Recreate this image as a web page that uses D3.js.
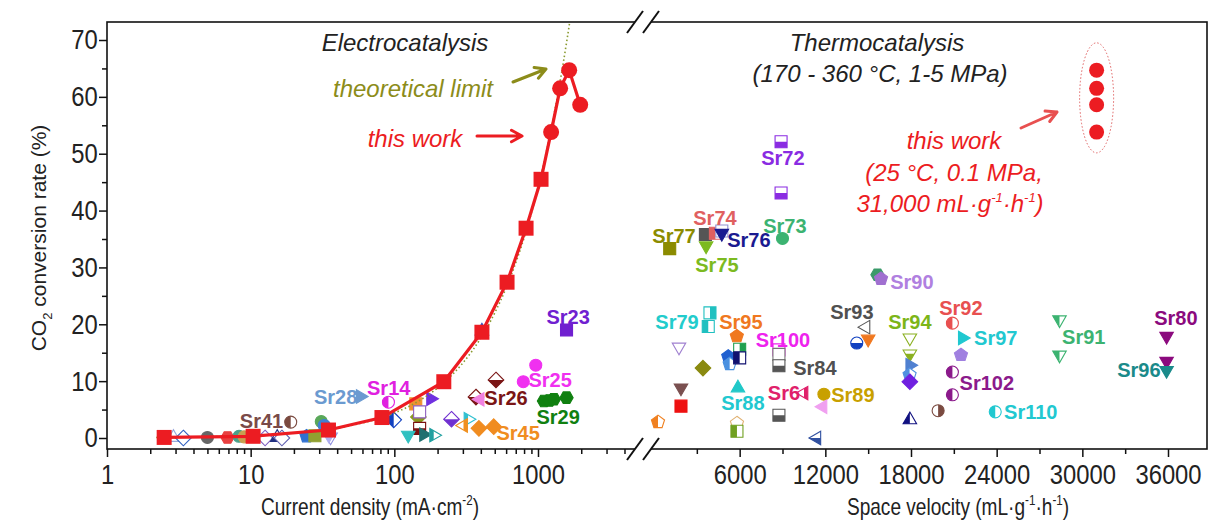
<!DOCTYPE html>
<html>
<head>
<meta charset="utf-8">
<script src="https://cdn.jsdelivr.net/npm/d3@7"></script>
<style>
  body { margin: 0; background: #fff; }
  svg { font-family: "Liberation Sans", Arial, sans-serif; }
</style>
</head>
<body>
<script>
// ---- data ----
// this work, electrocatalysis (current density mA/cm2, conversion %)
let workJ = [2.5, 10.4, 34.8, 82, 221, 407, 609, 826, 1050, 1234, 1426, 1648, 1967];
let workConv = [0.1, 0.3, 1.4, 3.6, 9.9, 18.6, 27.4, 36.9, 45.5, 53.8, 61.5, 64.7, 58.6];
let workShape = ['square', 'square', 'square', 'square', 'square', 'square', 'square', 'square', 'square',
    'circle', 'circle', 'circle', 'circle'];
// theoretical limit
let theoryJ = [2.2, 5, 10, 20, 50, 100, 150, 200, 250, 300, 400, 500, 600, 700, 800, 900, 1000,
    1100, 1200, 1300, 1400, 1500, 1600, 1700];
let theoryConv = [0.1, 0.22, 0.44, 0.88, 2.2, 4.4, 6.6, 8.8, 11.0, 13.2, 17.6, 22.0, 26.4, 30.8, 35.2, 39.6, 44.0,
    48.4, 52.8, 57.2, 61.6, 66.0, 70.4, 74.8];
// this work, thermocatalysis comparison (space velocity, conversion)
let workV = [31000, 31000, 31000, 31000];
let workVConv = [64.7, 61.5, 58.6, 53.8];

// literature, electrocatalysis
let elecJ = [2.9, 3.4, 5.0, 6.9, 8.3, 9.0, 12.6, 15.3, 16.5, 24.5, 28, 31, 32.5, 36, 35,
    19, 58, 91, 99, 141, 179, 147, 150, 150, 125, 160, 188, 250, 326, 303,
    388, 492, 510, 370, 395, 965, 790, 1100, 1200, 1290, 1580, 1580, 407];
let elecConv = [0.1, 0.0, 0.1, 0.1, 0.3, 0.2, 0.0, 0.1, 0.0, 0.3, 0.4, 2.9, 2.2, 0.2, 0.5,
    2.8, 7.3, 6.3, 3.2, 6.0, 6.9, 3.7, 4.6, 1.7, 0.5, 0.6, 0.5, 3.3, 3.3, 2.2,
    1.7, 2.0, 10.2, 7.2, 6.8, 12.8, 9.9, 6.5, 6.6, 6.8, 7.1, 19.0, 18.8];
let elecShape = ['triUp', 'diamond', 'circle', 'hexagon', 'circle', 'circle', 'diamond', 'triUp', 'diamond', 'pentagon',
    'square', 'circle', 'circle', 'triDown', 'triDown',
    'circle', 'triRight', 'circle', 'diamond', 'square', 'triRight', 'diamond', 'square', 'square', 'triDown',
    'triRight', 'triRight', 'diamond', 'triRight', 'triLeft',
    'diamond', 'diamond', 'diamond', 'diamond', 'triLeft', 'circle', 'circle', 'hexagon', 'hexagon', 'hexagon', 'hexagon',
    'square', 'triUp'];
let elecColor = ['#99aadd', '#3060c0', '#666666', '#e84040', '#4aa08a', '#c8a050', '#8060c0', '#203080', '#6060b0', '#3070d0',
    '#90a030', '#5aa85a', '#4080d0', '#9090e0', '#b0b0f0',
    '#7a4a40', '#6b9ad0', '#e020e0', '#1040c0', '#f09030', '#7030e0', '#8a9a20', '#9060c0', '#7a1010', '#30c0c0',
    '#207070', '#20a0a0', '#7030d0', '#30c0d0', '#f09020',
    '#f08c20', '#f08c20', '#7a1515', '#7a1515', '#f080e0', '#f030f0', '#f030f0', '#108010', '#108010', '#108010', '#108010',
    '#7020d0', '#3050c0'];
let elecFill = ['open', 'open', 'full', 'full', 'full', 'full', 'open', 'bottom', 'open', 'full',
    'full', 'full', 'full', 'open', 'full',
    'left', 'full', 'left', 'left', 'full', 'full', 'full', 'open', 'bottom', 'full',
    'full', 'left', 'bottom', 'left', 'right',
    'full', 'full', 'bottom', 'bottom', 'full', 'full', 'full', 'full', 'full', 'full', 'full',
    'full', 'full'];

// literature, thermocatalysis
let thermV = [8900, 8900, 3600, 4300, 4750, 4750, 9000, 1100, 3650, 15650, 15900, 3920, 3800, 5800,
    8750, 8750, 8750, 8750, 1750, 3430, 1890, 1890, 280, 5200, 5300, 6000, 6000, 5880,
    10500, 11900, 11830, 5810, 5810, 11400, 14840, 15000, 14200, 17920, 17920, 17920, 17900, 17920, 17920,
    20900, 21600, 21500, 20900, 20900, 19900, 23900, 28400, 28400, 35900, 35900, 35900];
let thermConv = [52.1, 43.1, 35.8, 36.0, 36.4, 36.0, 35.1, 33.3, 33.8, 28.7, 28.0, 22.0, 19.6, 17.9,
    15.5, 14.7, 12.7, 4.0, 16.0, 12.3, 8.8, 5.6, 2.8, 14.3, 13.0, 15.6, 14.1, 8.8,
    7.9, 7.7, 5.5, 2.6, 1.2, 0.0, 19.5, 17.4, 16.7, 17.6, 14.8, 12.8, 11.1, 9.9, 3.2,
    20.2, 17.6, 14.6, 11.6, 7.6, 4.8, 4.6, 20.8, 14.6, 17.9, 13.5, 11.9];
let thermShape = ['square', 'square', 'square', 'square', 'square', 'triDown', 'circle', 'square', 'triDown', 'hexagon', 'pentagon',
    'square', 'square', 'pentagon',
    'square', 'square', 'square', 'square', 'triDown', 'diamond', 'triDown', 'square', 'pentagon', 'pentagon', 'pentagon',
    'square', 'square', 'triUp',
    'triLeft', 'circle', 'triLeft', 'pentagon', 'square', 'triLeft', 'triLeft', 'triDown', 'circle', 'triDown', 'triDown',
    'triRight', 'pentagon', 'diamond', 'triUp',
    'circle', 'triRight', 'pentagon', 'circle', 'circle', 'circle', 'circle', 'triDown', 'triDown', 'triDown', 'triDown', 'triDown'];
let thermColor = ['#8a2be2', '#8a2be2', '#555555', '#e06060', '#9090d0', '#1a1a90', '#3cb371', '#8b8b00', '#7cba20', '#3a9a6a', '#a070d0',
    '#20c0c0', '#20c0c0', '#f07820',
    '#ee22ee', '#777777', '#555555', '#555555', '#a080d0', '#8a8a10', '#7a5050', '#ee1111', '#f08020', '#2060d0', '#4a90e0',
    '#20a050', '#101070', '#20c8c8',
    '#e0206a', '#c8a000', '#f0a0f0', '#e0b070', '#70a020', '#3050a0', '#555555', '#f07820', '#1040c0', '#8ab020', '#8ab020',
    '#5080d0', '#5090e0', '#7020e0', '#101080',
    '#e85050', '#20c8d0', '#a080e0', '#8b1a8b', '#8b1a8b', '#7a4a40', '#20c8d0', '#3cb371', '#3cb371', '#8b0a7e', '#8b0a7e', '#1a8a8a'];
let thermFill = ['bottom', 'bottom', 'full', 'left', 'open', 'full', 'full', 'full', 'full', 'full', 'full',
    'right', 'left', 'full',
    'bottom', 'open', 'bottom', 'bottom', 'open', 'full', 'full', 'full', 'left', 'full', 'left',
    'right', 'left', 'full',
    'right', 'full', 'full', 'open', 'left', 'bottom', 'open', 'full', 'bottom', 'open', 'bottom',
    'full', 'left', 'full', 'left',
    'left', 'full', 'full', 'left', 'left', 'right', 'left', 'left', 'left', 'full', 'full', 'full'];

// reference labels (text, value coordinates of label centre, colour)
let elecLabels = ['Sr41', 'Sr28', 'Sr14', 'Sr26', 'Sr25', 'Sr29', 'Sr45', 'Sr23'];
let elecLabelJ = [11.9, 39, 91.4, 599, 1214, 1381, 727, 1622];
let elecLabelConv = [3.0, 7.2, 8.8, 7.0, 10.2, 3.7, 0.9, 21.3];
let elecLabelColor = ['#7a4a48', '#6b9ad0', '#e020e0', '#7a1515', '#f030f0', '#108010', '#f08c20', '#7020d0'];

let thermLabels = ['Sr72', 'Sr74', 'Sr77', 'Sr76', 'Sr73', 'Sr75', 'Sr90', 'Sr79', 'Sr95', 'Sr100', 'Sr84', 'Sr93',
    'Sr94', 'Sr92', 'Sr97', 'Sr102', 'Sr110', 'Sr91', 'Sr80', 'Sr96', 'Sr88', 'Sr6', 'Sr89'];
let thermLabelV = [9030, 4270, 1400, 6650, 9170, 4410, 18060, 1610, 6090, 9030, 11270, 13860,
    17920, 21490, 23940, 23310, 26390, 30100, 36550, 33960, 6230, 9100, 13930];
let thermLabelConv = [49.2, 38.7, 35.5, 34.8, 37.3, 30.4, 27.4, 20.4, 20.4, 17.2, 12.3, 22.2,
    20.4, 22.9, 17.6, 9.7, 4.6, 17.8, 21.1, 12.0, 6.2, 7.9, 7.6];
let thermLabelColor = ['#8a2be2', '#e06060', '#8b8b00', '#1a1a90', '#3cb371', '#7cba20', '#b080e0', '#22cccc', '#f07820',
    '#ee22ee', '#505050', '#505050', '#7cb518', '#e85050', '#22c8d0', '#8b1a8b', '#22c8d0', '#3cb371', '#8b0a7e',
    '#1a8a8a', '#22c8d0', '#e0206a', '#c8a000'];

let yTicks = [0, 10, 20, 30, 40, 50, 60, 70];
let xLeftTicks = [1, 10, 100, 1000];
let xRightTicks = [6000, 12000, 18000, 24000, 30000, 36000];

// ---- layout ----
let frame = {left: 107, right: 1207, top: 22, bottom: 449};
let red = '#ec1c22';
let olive = '#8c8c1a';

let svg = d3.select('body').append('svg')
    .attr('width', 1216)
    .attr('height', 525);

let xL = d3.scaleLog().domain([1, 4300]).range([107, 629]);
let xR = d3.scaleLinear().domain([0, 36000]).range([654, 1168]);
let y = d3.scaleLinear().domain([0, 70]).range([438, 40]);

let defs = svg.append('defs');
[['left', -20, -20, 20, 40], ['right', 0, -20, 20, 40], ['top', -20, -20, 40, 20], ['bottom', -20, 0, 40, 20]]
    .forEach(function (c) {
        defs.append('clipPath').attr('id', 'half-' + c[0])
            .append('rect').attr('x', c[1]).attr('y', c[2]).attr('width', c[3]).attr('height', c[4]);
    });
defs.append('clipPath').attr('id', 'plotL')
    .append('rect').attr('x', frame.left).attr('y', frame.top)
    .attr('width', xL.range()[1] - frame.left).attr('height', frame.bottom - frame.top);

function poly(n, r, rot) {
    let pts = d3.range(n).map(function (i) {
        let a = rot + i * 2 * Math.PI / n;
        return [r * Math.cos(a), r * Math.sin(a)];
    });
    return 'M' + pts.map(function (p) { return p[0].toFixed(2) + ',' + p[1].toFixed(2); }).join('L') + 'Z';
}

function shapePath(shape, r) {
    switch (shape) {
        case 'square': return 'M' + (-r) + ',' + (-r) + 'h' + 2 * r + 'v' + 2 * r + 'h' + (-2 * r) + 'Z';
        case 'circle': return 'M' + r + ',0A' + r + ',' + r + ' 0 1 1 ' + (-r) + ',0A' + r + ',' + r + ' 0 1 1 ' + r + ',0Z';
        case 'diamond': return poly(4, r * 1.3, -Math.PI / 2);
        case 'triUp': return poly(3, r * 1.3, -Math.PI / 2);
        case 'triDown': return poly(3, r * 1.3, Math.PI / 2);
        case 'triLeft': return poly(3, r * 1.3, Math.PI);
        case 'triRight': return poly(3, r * 1.3, 0);
        case 'pentagon': return poly(5, r * 1.15, -Math.PI / 2);
        case 'hexagon': return poly(6, r * 1.1, 0);
    }
}

function drawMarkers(layer, xs, ys, shapes, colors, fills, r) {
    xs.forEach(function (xv, i) {
        let g = layer.append('g').attr('transform', 'translate(' + xv + ',' + ys[i] + ')');
        let d = shapePath(shapes[i], r);
        let f = fills[i];
        g.append('path').attr('d', d)
            .attr('fill', f === 'full' ? colors[i] : '#fff')
            .attr('stroke', colors[i])
            .attr('stroke-width', 1.1);
        if (f === 'left' || f === 'right' || f === 'top' || f === 'bottom') {
            g.append('path').attr('d', d)
                .attr('fill', colors[i])
                .attr('clip-path', 'url(#half-' + f + ')');
        }
    });
}

// ---- axes ----
// the picture uses a condensed face: squeeze the tick labels horizontally
function styleAxis(g) {
    g.select('.domain').remove();
    g.selectAll('.tick line').attr('stroke', '#111').attr('stroke-width', 1.5);
    g.selectAll('.tick text').attr('font-size', 28).attr('fill', '#222')
        .attr('transform', 'scale(0.85,1)');
}

svg.append('g').attr('transform', 'translate(' + frame.left + ',0)')
    .call(d3.axisLeft(y).tickValues(yTicks).tickSize(8).tickPadding(3).tickFormat(d3.format('d')))
    .call(styleAxis);
svg.append('g').attr('transform', 'translate(' + frame.left + ',0)')
    .call(d3.axisLeft(y).tickValues(d3.range(5, 75, 10)).tickSize(5).tickFormat(''))
    .call(styleAxis);

let minorL = [];
[1, 10, 100, 1000].forEach(function (dec) {
    d3.range(2, 10).forEach(function (k) { if (dec * k < 4300) minorL.push(dec * k); });
});
svg.append('g').attr('transform', 'translate(0,' + frame.bottom + ')')
    .call(d3.axisBottom(xL).tickValues(xLeftTicks).tickSize(8).tickPadding(7).tickFormat(d3.format('d')))
    .call(styleAxis);
svg.append('g').attr('transform', 'translate(0,' + frame.bottom + ')')
    .call(d3.axisBottom(xL).tickValues(minorL).tickSize(5).tickFormat(''))
    .call(styleAxis);
svg.append('g').attr('transform', 'translate(0,' + frame.bottom + ')')
    .call(d3.axisBottom(xR).tickValues(xRightTicks).tickSize(8).tickPadding(7).tickFormat(d3.format('d')))
    .call(styleAxis);
svg.append('g').attr('transform', 'translate(0,' + frame.bottom + ')')
    .call(d3.axisBottom(xR).tickValues(d3.range(3000, 39000, 6000)).tickSize(5).tickFormat(''))
    .call(styleAxis);

// frame
svg.append('rect')
    .attr('x', frame.left).attr('y', frame.top)
    .attr('width', frame.right - frame.left).attr('height', frame.bottom - frame.top)
    .attr('fill', 'none').attr('stroke', '#111').attr('stroke-width', 1.6);

// axis breaks
[frame.top, frame.bottom].forEach(function (yy) {
    let x0 = 627, w = 16, h = 11;
    svg.append('path')
        .attr('d', 'M' + x0 + ',' + (yy + h) + 'L' + (x0 + w) + ',' + (yy - h) + 'L' + (x0 + 2 * w) + ',' + (yy - h) +
            'L' + (x0 + w) + ',' + (yy + h) + 'Z')
        .attr('fill', '#fff');
    [0, w].forEach(function (o) {
        svg.append('line')
            .attr('x1', x0 + o).attr('y1', yy + h)
            .attr('x2', x0 + o + w).attr('y2', yy - h)
            .attr('stroke', '#111').attr('stroke-width', 2);
    });
});

// ---- marks ----
let scatter = svg.append('g');
drawMarkers(scatter, elecJ.map(xL), elecConv.map(y), elecShape, elecColor, elecFill, 6);
drawMarkers(scatter, thermV.map(xR), thermConv.map(y), thermShape, thermColor, thermFill, 6);

// theoretical limit
svg.append('path')
    .datum(d3.zip(theoryJ, theoryConv))
    .attr('clip-path', 'url(#plotL)')
    .attr('fill', 'none')
    .attr('stroke', '#8a9a30')
    .attr('stroke-width', 1.6)
    .attr('stroke-dasharray', '1.5,2.5')
    .attr('d', d3.line().curve(d3.curveMonotoneX)
        .x(function (d) { return xL(d[0]); }).y(function (d) { return y(d[1]); }));

// this work, electrocatalysis
svg.append('path')
    .datum(d3.zip(workJ, workConv))
    .attr('fill', 'none')
    .attr('stroke', red)
    .attr('stroke-width', 3.2)
    .attr('d', d3.line().x(function (d) { return xL(d[0]); }).y(function (d) { return y(d[1]); }));
workJ.forEach(function (j, i) {
    let d = workShape[i] === 'square' ? shapePath('square', 7.5) : shapePath('circle', 8);
    svg.append('path').attr('d', d)
        .attr('transform', 'translate(' + xL(j) + ',' + y(workConv[i]) + ')')
        .attr('fill', red);
});

// this work, thermocatalysis comparison
workV.forEach(function (v, i) {
    svg.append('path').attr('d', shapePath('circle', 7.5))
        .attr('transform', 'translate(' + xR(v) + ',' + y(workVConv[i]) + ')')
        .attr('fill', red);
});
svg.append('ellipse')
    .attr('cx', xR(31000)).attr('cy', y(d3.mean(workVConv)) - 1)
    .attr('rx', 17).attr('ry', 55)
    .attr('fill', 'none').attr('stroke', '#e06060')
    .attr('stroke-width', 1).attr('stroke-dasharray', '1.5,2');

// reference labels
let labelG = svg.append('g')
    .attr('font-weight', 'bold')
    .attr('font-size', 20)
    .attr('text-anchor', 'middle')
    .attr('dominant-baseline', 'central');
elecLabels.forEach(function (t, i) {
    labelG.append('text').attr('x', xL(elecLabelJ[i])).attr('y', y(elecLabelConv[i]))
        .attr('fill', elecLabelColor[i]).text(t);
});
thermLabels.forEach(function (t, i) {
    labelG.append('text').attr('x', xR(thermLabelV[i])).attr('y', y(thermLabelConv[i]))
        .attr('fill', thermLabelColor[i]).text(t);
});

// ---- annotation texts ----
function label(txt, x, yy, color, size) {
    return svg.append('text').attr('x', x).attr('y', yy)
        .attr('text-anchor', 'middle')
        .attr('font-style', 'italic')
        .attr('font-size', size || 24)
        .attr('fill', color)
        .text(txt);
}
label('Electrocatalysis', 405, 51, '#222');
label('theoretical limit', 413, 97, olive);
label('this work', 415, 147, red);
label('Thermocatalysis', 877, 51, '#222');
label('(170 - 360 °C, 1-5 MPa)', 880, 82, '#222');
label('this work', 954, 149, red);
label('(25 °C, 0.1 MPa,', 954, 181, red);
let t31 = label('', 950, 212, red);
t31.append('tspan').text('31,000 mL·g');
t31.append('tspan').attr('font-size', 13).attr('dy', -10).text('-1');
t31.append('tspan').attr('dy', 10).text('·h');
t31.append('tspan').attr('font-size', 13).attr('dy', -10).text('-1');
t31.append('tspan').attr('dy', 10).text(')');

// arrows
function arrow(x1, y1, x2, y2, color) {
    let a = Math.atan2(y2 - y1, x2 - x1), L = 12, s = 0.5;
    svg.append('path')
        .attr('d', 'M' + x1 + ',' + y1 + 'L' + x2 + ',' + y2 +
            'M' + (x2 - L * Math.cos(a - s)) + ',' + (y2 - L * Math.sin(a - s)) + 'L' + x2 + ',' + y2 +
            'L' + (x2 - L * Math.cos(a + s)) + ',' + (y2 - L * Math.sin(a + s)))
        .attr('fill', 'none').attr('stroke', color).attr('stroke-width', 3)
        .attr('stroke-linecap', 'round').attr('stroke-linejoin', 'round');
}
arrow(513, 82, 546, 69, olive);
arrow(477, 136, 522, 136, red);
arrow(1021, 128, 1057, 112, '#e85050');

// ---- axis titles ----
let tL = svg.append('text').attr('transform', 'translate(370,515) scale(0.83,1)').attr('text-anchor', 'middle')
    .attr('font-size', 23).attr('fill', '#222');
tL.append('tspan').text('Current density (mA·cm');
tL.append('tspan').attr('font-size', 14).attr('dy', -10).text('-2');
tL.append('tspan').attr('dy', 10).text(')');

let tR = svg.append('text').attr('transform', 'translate(958,515) scale(0.83,1)').attr('text-anchor', 'middle')
    .attr('font-size', 23).attr('fill', '#222');
tR.append('tspan').text('Space velocity (mL·g');
tR.append('tspan').attr('font-size', 14).attr('dy', -10).text('-1');
tR.append('tspan').attr('dy', 10).text('·h');
tR.append('tspan').attr('font-size', 14).attr('dy', -10).text('-1');
tR.append('tspan').attr('dy', 10).text(')');

let tY = svg.append('text').attr('transform', 'translate(46,238) rotate(-90)')
    .attr('text-anchor', 'middle').attr('font-size', 21).attr('fill', '#222');
tY.append('tspan').text('CO');
tY.append('tspan').attr('font-size', 13).attr('dy', 6).text('2');
tY.append('tspan').attr('dy', -6).text(' conversion rate (%)');
</script>
</body>
</html>
